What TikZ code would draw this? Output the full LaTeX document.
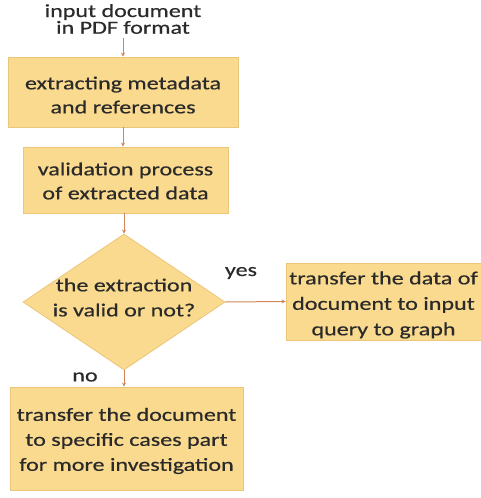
\documentclass[tikz,border=0pt]{standalone}
\usepackage{fontspec}
\setmainfont{Carlito}[FakeStretch=1.3,FakeBold=0.5]
\usetikzlibrary{shapes.geometric,arrows.meta}
\definecolor{boxfill}{HTML}{FADA8E}
\definecolor{boxline}{HTML}{EBC679}
\definecolor{arrowc}{HTML}{CF8558}
\definecolor{txt}{HTML}{2A2A2A}
\begin{document}
\begin{tikzpicture}[x=1pt,y=-1pt,
  every node/.style={font=\fontsize{18.5}{24}\selectfont,text=txt},
  procbox/.style={draw=boxline,fill=boxfill,line width=0.8pt,inner sep=0pt},
  flow/.style={draw=arrowc,line width=1pt,-{Stealth[length=4pt,width=4pt]}},
  lbl/.style={align=center,inner sep=0pt}]
\useasboundingbox (0,0) rectangle (481,498);
% shapes
\node[procbox,minimum width=230pt,minimum height=70pt] (b1) at (123,92) {};
\node[procbox,minimum width=205pt,minimum height=66pt] (b2) at (125.5,180) {};
\node[procbox,diamond,aspect=1.47,minimum width=202pt,minimum height=136pt] (d) at (124,302) {};
\node[procbox,minimum width=195pt,minimum height=77pt] (yb) at (383.5,301.5) {};
\node[procbox,minimum width=233pt,minimum height=103pt] (nb) at (126.5,438.5) {};
% texts
\node[lbl,font=\fontsize{18.5}{15}\selectfont] (in) at (123,19) {input document\\in PDF format};
\node[lbl] (t1) at (123,95) {extracting metadata\\and references};
\node[lbl] (t2) at (125.5,181) {validation process\\of extracted data};
\node[lbl,font=\fontsize{18.5}{25}\selectfont] (dt) at (124,297.5) {the extraction\\is valid or not?};
\node[lbl,font=\fontsize{18.5}{25.5}\selectfont] (t3) at (383.5,305) {transfer the data of\\document to input\\query to graph};
\node[lbl,font=\fontsize{18.5}{25}\selectfont] (t4) at (126.5,441) {transfer the document\\to specific cases part\\for more investigation};
\node[lbl] (yes) at (241,273) {yes};
\node[lbl] (no) at (85,377) {no};
% connectors
\coordinate (ina) at (123,38);
\draw[flow] (ina) -- (b1.north);
\draw[flow] (b1.south) -- (b1.south |- b2.north);
\draw[flow] (b2.south -| d.north) -- (d.north);
\draw[flow] (d.east) -- (yb.west);
\draw[flow] (d.south) -- (d.south |- nb.north);
\end{tikzpicture}
\end{document}
